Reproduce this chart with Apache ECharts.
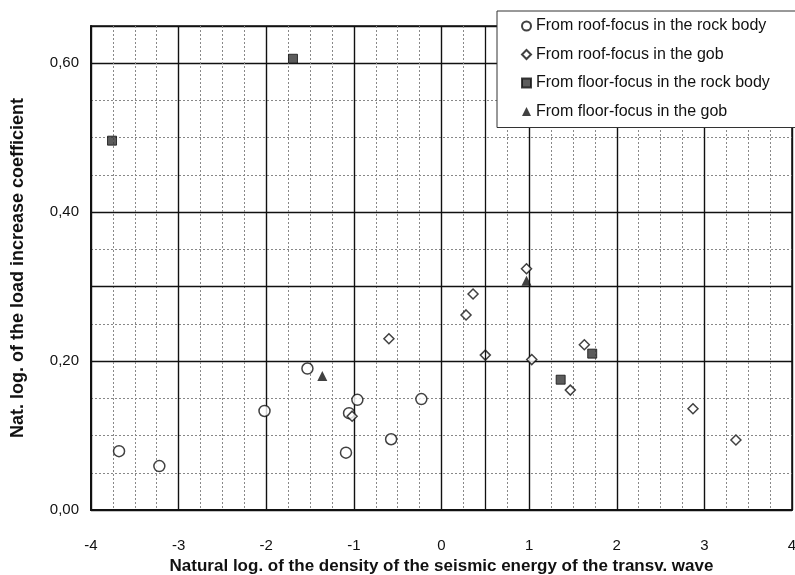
<!DOCTYPE html>
<html>
<head>
<meta charset="utf-8">
<script src="https://cdn.jsdelivr.net/npm/echarts@6/dist/echarts.min.js"></script>
<style>
  html, body { margin: 0; padding: 0; background: #fff; }
  #chart { width: 795px; height: 575px; }
</style>
</head>
<body>
<div id="chart"></div>
<script>
// Roof-focus events in the rock body
const roofRockX = [-3.68, -3.22, -2.02, -1.53, -1.055, -1.09, -0.96, -0.575, -0.23];
const roofRockY = [0.079, 0.059, 0.133, 0.190, 0.130, 0.077, 0.148, 0.095, 0.149];
// Roof-focus events in the gob
const roofGobX = [-0.60, -1.02, 0.28, 0.36, 0.50, 0.97, 1.03, 1.47, 1.63, 2.87, 3.36];
const roofGobY = [0.230, 0.126, 0.262, 0.290, 0.208, 0.324, 0.202, 0.161, 0.222, 0.136, 0.094];
// Floor-focus events in the rock body
const floorRockX = [-3.76, -1.695, 1.36, 1.72];
const floorRockY = [0.496, 0.606, 0.175, 0.210];
// Floor-focus events in the gob
const floorGobX = [-1.36, 0.97];
const floorGobY = [0.180, 0.308];

const seriesNames = [
  'From roof-focus in the rock body',
  'From roof-focus in the gob',
  'From floor-focus in the rock body',
  'From floor-focus in the gob'
];
const xTicks = [-4, -3, -2, -1, 0, 1, 2, 3, 4];
const yTicks = [0, 0.2, 0.4, 0.6];
// heavier grid lines printed on the sheet
const extraGridX = [0.5];
const extraGridY = [0.3];

const pairs = (xs, ys) => xs.map((x, i) => [x, ys[i]]);
const FONT = '"Liberation Sans", Arial, sans-serif';

const chart = echarts.init(document.getElementById('chart'), null, { renderer: 'canvas' });

const hollow = { color: '#fff', borderColor: '#111', borderWidth: 1.5 };

chart.setOption({
  backgroundColor: '#fff',
  animation: false,
  textStyle: { fontFamily: FONT, color: '#111' },
  grid: {
    left: 91, right: 3, top: 26, bottom: 65,
    outerBoundsMode: 'none',
    containLabel: false,
    show: true, backgroundColor: '#fff', borderColor: '#111', borderWidth: 1.5
  },
  legend: {
    orient: 'vertical',
    left: 497, top: 11,
    padding: [7, 60, 8, 24],
    itemGap: 12.5,
    itemWidth: 9, itemHeight: 9,
    itemTextGap: 6,
    backgroundColor: '#fff',
    borderColor: '#333', borderWidth: 1,
    textStyle: { fontFamily: FONT, fontSize: 16, color: '#111' },
    data: seriesNames
  },
  xAxis: {
    type: 'value',
    min: xTicks[0], max: xTicks[xTicks.length - 1], interval: 1,
    name: 'Natural log. of the density of the seismic energy of the transv. wave',
    nameLocation: 'middle', nameGap: 46,
    nameTextStyle: { fontFamily: FONT, fontSize: 17, fontWeight: 'bold', color: '#111' },
    axisLine: { show: true, onZero: false, lineStyle: { color: '#111', width: 2 } },
    axisTick: { show: false },
    axisLabel: { margin: 28, fontSize: 15, color: '#111', fontFamily: FONT },
    splitLine: { show: true, lineStyle: { color: '#111', width: 1.4 } },
    minorTick: { show: false, splitNumber: 4 },
    minorSplitLine: { show: true, lineStyle: { color: '#888', width: 1, type: [2, 2] } }
  },
  yAxis: [
    {
      // fine dashed lines every 0.05
      type: 'value', min: 0, max: 0.65, interval: 0.05,
      position: 'left',
      axisLine: { show: false }, axisTick: { show: false }, axisLabel: { show: false },
      splitLine: { show: true, lineStyle: { color: '#888', width: 1, type: [2, 2] } }
    },
    {
      type: 'value', min: 0, max: 0.65, interval: 0.2,
      position: 'left',
      name: 'Nat. log. of the load increase coefficient',
      nameLocation: 'middle', nameGap: 64, nameRotate: 90,
      nameTextStyle: { fontFamily: FONT, fontSize: 18, fontWeight: 'bold', color: '#111' },
      axisLine: { show: true, onZero: false, lineStyle: { color: '#111', width: 2 } },
      axisTick: { show: false },
      axisLabel: {
        margin: 12, fontSize: 15, color: '#111', fontFamily: FONT,
        formatter: v => yTicks.some(t => Math.abs(t - v) < 1e-6) ? v.toFixed(2).replace('.', ',') : ''
      },
      splitLine: { show: true, lineStyle: { color: '#111', width: 1.4 } }
    }
  ],
  series: [
    {
      name: seriesNames[0], type: 'scatter', yAxisIndex: 1,
      symbol: 'circle', symbolSize: 11,
      itemStyle: hollow,
      data: pairs(roofRockX, roofRockY),
      markLine: {
        silent: true, symbol: 'none', label: { show: false },
        lineStyle: { color: '#111', width: 1.3, type: 'solid' },
        data: extraGridX.map(x => ({ xAxis: x })).concat(extraGridY.map(y => ({ yAxis: y })))
      }
    },
    {
      name: seriesNames[1], type: 'scatter', yAxisIndex: 1,
      symbol: 'diamond', symbolSize: 10,
      itemStyle: hollow,
      data: pairs(roofGobX, roofGobY)
    },
    {
      name: seriesNames[2], type: 'scatter', yAxisIndex: 1,
      symbol: 'rect', symbolSize: 9,
      itemStyle: { color: '#333', borderColor: '#111', borderWidth: 1 },
      data: pairs(floorRockX, floorRockY)
    },
    {
      name: seriesNames[3], type: 'scatter', yAxisIndex: 1,
      symbol: 'triangle', symbolSize: 10,
      itemStyle: { color: '#111' },
      data: pairs(floorGobX, floorGobY)
    }
  ]
});
</script>
</body>
</html>
